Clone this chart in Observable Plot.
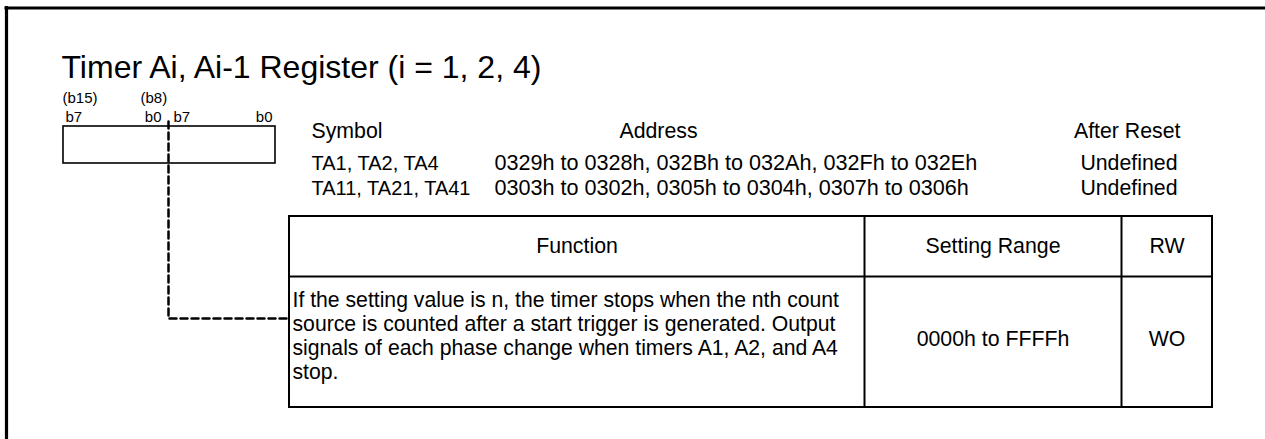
<!DOCTYPE html>
<html>
<head>
<meta charset="utf-8">
<script src="https://cdn.jsdelivr.net/npm/d3@7"></script>
<script src="https://cdn.jsdelivr.net/npm/@observablehq/plot@0.6"></script>
<style>
  html, body { margin: 0; padding: 0; background: #fff; overflow: hidden; }
  svg { display: block; }
</style>
</head>
<body>
<div id="chart"></div>
<script>
// ---------- data ----------
const title = "Timer Ai, Ai-1 Register (i = 1, 2, 4)";
const upperBitLabels = ["(b15)", "(b8)"];
const bitLabelsLeft = ["b7", "b7"];
const bitLabelsRight = ["b0", "b0"];
const infoHeaders = ["Symbol", "Address", "After Reset"];
const symbols = ["TA1, TA2, TA4", "TA11, TA21, TA41"];
const addresses = [
  "0329h to 0328h, 032Bh to 032Ah, 032Fh to 032Eh",
  "0303h to 0302h, 0305h to 0304h, 0307h to 0306h"
];
const afterReset = ["Undefined", "Undefined"];
const tableHeaders = ["Function", "Setting Range", "RW"];
const functionLines = [
  "If the setting value is n, the timer stops when the nth count",
  "source is counted after a start trigger is generated. Output",
  "signals of each phase change when timers A1, A2, and A4",
  "stop."
];
const settingRange = ["0000h to FFFFh"];
const rwValues = ["WO"];

// ---------- layout ----------
const W = 1265, H = 439;
const font = "'Liberation Sans', Arial, Helvetica, sans-serif";
const L = {
  frame: {x: 6, y: 7.5},
  title: {x: 61, y: 77, size: 32},
  upperBitX: [62, 140], upperBitY: 102,
  bitLeftX: [65, 173], bitRightX: [161, 272], bitY: 121, bitSize: 15,
  reg: {x1: 63, x2: 275, y1: 126, y2: 163},
  leader: {x: 168, y1: 121, y2: 318, x2: 289},
  infoY: 137, symX: 311, addrCenterX: 658, resetX: 1180,
  rowY: [169, 194], addrX: 494, resetRowX: 1177,
  symSize: 20, addrSize: 21.6, infoSize: 21.3,
  table: {x1: 289, x2: 1212, y1: 216, yh: 276, y2: 407, cols: [864, 1121]},
  headerY: 252,
  descX: 292, descY0: 306, descStep: 24.3, descSize: 21.2,
  valueY: 345
};
const T = L.table;
const colEdges = [T.x1, ...T.cols, T.x2];
const colCenters = colEdges.slice(0, -1).map((e, i) => (e + colEdges[i + 1]) / 2);

const textOpts = (extra) => Object.assign({fontFamily: font, fill: "#000", lineAnchor: "bottom", text: d => d}, extra);

const chart = Plot.plot({
  width: W,
  height: H,
  margin: 0,
  x: {type: "linear", domain: [0, W], range: [0, W], axis: null},
  y: {type: "linear", domain: [0, H], range: [0, H], axis: null},
  style: {background: "#fff"},
  marks: [
    // outer frame (top and left edges)
    Plot.ruleY([L.frame.y], {x1: L.frame.x - 1.5, x2: W, stroke: "#000", strokeWidth: 3.2}),
    Plot.ruleX([L.frame.x], {y1: L.frame.y - 1.5, y2: H, stroke: "#000", strokeWidth: 3.2}),

    // title
    Plot.text([title], textOpts({x: L.title.x, y: L.title.y, textAnchor: "start", fontSize: L.title.size})),

    // bit labels
    Plot.text(upperBitLabels, textOpts({x: (d, i) => L.upperBitX[i], y: L.upperBitY, textAnchor: "start", fontSize: L.bitSize})),
    Plot.text(bitLabelsLeft, textOpts({x: (d, i) => L.bitLeftX[i], y: L.bitY, textAnchor: "start", fontSize: L.bitSize})),
    Plot.text(bitLabelsRight, textOpts({x: (d, i) => L.bitRightX[i], y: L.bitY, textAnchor: "end", fontSize: L.bitSize})),

    // register box
    Plot.rect([L.reg], {x1: "x1", x2: "x2", y1: "y1", y2: "y2", fill: "none", stroke: "#000", strokeWidth: 1.6}),

    // dashed leader line
    Plot.line(
      [{x: L.leader.x, y: L.leader.y1}, {x: L.leader.x, y: L.leader.y2}, {x: L.leader.x2, y: L.leader.y2}],
      {x: "x", y: "y", stroke: "#000", strokeWidth: 2.5, strokeDasharray: "7,4", curve: "linear"}
    ),

    // info header + rows
    Plot.text([infoHeaders[0]], textOpts({x: L.symX, y: L.infoY, textAnchor: "start", fontSize: L.infoSize})),
    Plot.text([infoHeaders[1]], textOpts({x: L.addrCenterX, y: L.infoY, textAnchor: "middle", fontSize: L.infoSize})),
    Plot.text([infoHeaders[2]], textOpts({x: L.resetX, y: L.infoY, textAnchor: "end", fontSize: L.infoSize})),
    Plot.text(symbols, textOpts({x: L.symX, y: (d, i) => L.rowY[i], textAnchor: "start", fontSize: L.symSize})),
    Plot.text(addresses, textOpts({x: L.addrX, y: (d, i) => L.rowY[i], textAnchor: "start", fontSize: L.addrSize})),
    Plot.text(afterReset, textOpts({x: L.resetRowX, y: (d, i) => L.rowY[i], textAnchor: "end", fontSize: L.infoSize})),

    // table
    Plot.rect([T], {x1: "x1", x2: "x2", y1: "y1", y2: "y2", fill: "none", stroke: "#000", strokeWidth: 2}),
    Plot.ruleY([T.yh], {x1: T.x1, x2: T.x2, stroke: "#000", strokeWidth: 2}),
    Plot.ruleX(T.cols, {y1: T.y1, y2: T.y2, stroke: "#000", strokeWidth: 2}),

    Plot.text(tableHeaders, textOpts({x: (d, i) => colCenters[i], y: L.headerY, textAnchor: "middle", fontSize: L.infoSize})),
    Plot.text(functionLines, textOpts({x: L.descX, y: (d, i) => L.descY0 + i * L.descStep, textAnchor: "start", fontSize: L.descSize})),
    Plot.text(settingRange, textOpts({x: colCenters[1], y: L.valueY, textAnchor: "middle", fontSize: L.infoSize})),
    Plot.text(rwValues, textOpts({x: colCenters[2], y: L.valueY, textAnchor: "middle", fontSize: L.infoSize}))
  ]
});

document.getElementById("chart").appendChild(chart);
</script>
</body>
</html>
